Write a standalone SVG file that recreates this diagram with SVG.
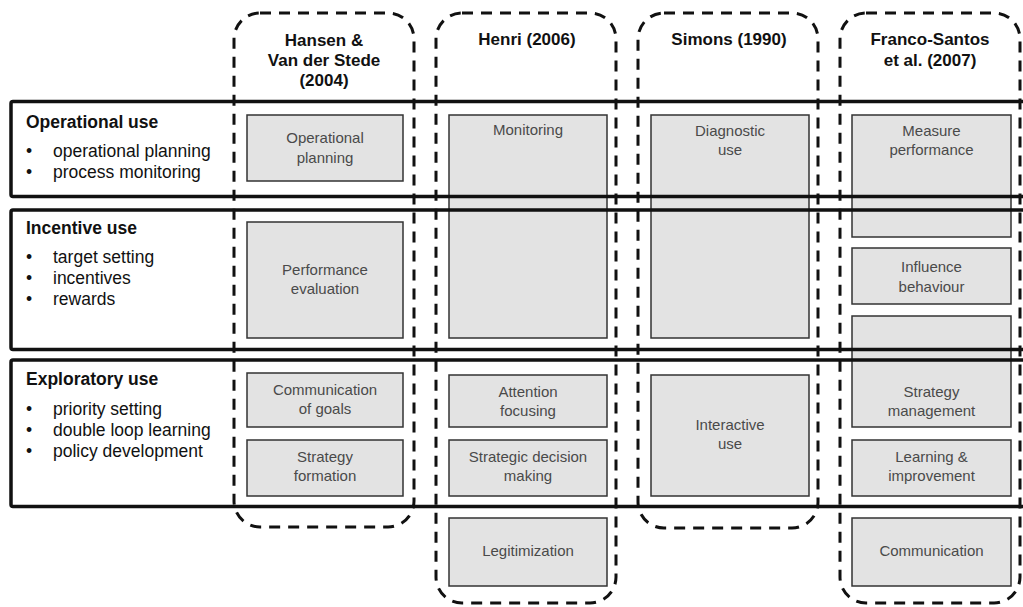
<svg xmlns="http://www.w3.org/2000/svg" width="1023" height="607" viewBox="0 0 1023 607">
<style>
.col{fill:none;stroke:#111;stroke-width:3;stroke-dasharray:11 8}
.row{fill:none;stroke:#111;stroke-width:3.5}
.box{fill:#e3e3e3;stroke:#333;stroke-width:1.5}
.bt{font-family:"Liberation Sans",Arial,sans-serif;font-size:15px;fill:#4a4a4a;text-anchor:middle}
.ht{font-family:"Liberation Sans",Arial,sans-serif;font-size:17px;font-weight:bold;fill:#111;text-anchor:middle}
.lh{font-family:"Liberation Sans",Arial,sans-serif;font-size:17.5px;font-weight:bold;fill:#111}
.lb{font-family:"Liberation Sans",Arial,sans-serif;font-size:17.5px;fill:#111}
</style>
<rect width="1023" height="607" fill="#fff"/>
<g id="columns">
  <g id="col-hansen"><rect class="col" x="234" y="13" width="180" height="514" rx="26"/>
    <text class="ht" x="324" y="46">Hansen &amp;</text><text class="ht" x="324" y="66">Van der Stede</text><text class="ht" x="324" y="86">(2004)</text></g>
  <g id="col-henri"><rect class="col" x="436" y="13" width="180" height="590" rx="26"/>
    <text class="ht" x="527" y="45">Henri (2006)</text></g>
  <g id="col-simons"><rect class="col" x="638" y="13" width="180" height="515" rx="26"/>
    <text class="ht" x="729" y="45">Simons (1990)</text></g>
  <g id="col-franco"><rect class="col" x="840" y="13" width="180" height="590" rx="26"/>
    <text class="ht" x="930" y="45">Franco-Santos</text><text class="ht" x="930" y="66">et al. (2007)</text></g>
</g>
<g id="boxes">
  <g id="op-planning"><rect class="box" x="247" y="115" width="156" height="66"/><text class="bt" x="325" y="143">Operational</text><text class="bt" x="325" y="163">planning</text></g>
  <g id="perf-eval"><rect class="box" x="247" y="222" width="156" height="116"/><text class="bt" x="325" y="275">Performance</text><text class="bt" x="325" y="294">evaluation</text></g>
  <g id="comm-goals"><rect class="box" x="247" y="373" width="156" height="54"/><text class="bt" x="325" y="395">Communication</text><text class="bt" x="325" y="414">of goals</text></g>
  <g id="strat-form"><rect class="box" x="247" y="440" width="156" height="56"/><text class="bt" x="325" y="462">Strategy</text><text class="bt" x="325" y="481">formation</text></g>

  <g id="monitoring"><rect class="box" x="449" y="115" width="158" height="223"/><text class="bt" x="528" y="135">Monitoring</text></g>
  <g id="attention"><rect class="box" x="449" y="375" width="158" height="52"/><text class="bt" x="528" y="397">Attention</text><text class="bt" x="528" y="416">focusing</text></g>
  <g id="strat-dec"><rect class="box" x="449" y="440" width="158" height="56"/><text class="bt" x="528" y="462">Strategic decision</text><text class="bt" x="528" y="481">making</text></g>
  <g id="legit"><rect class="box" x="449" y="518" width="158" height="68"/><text class="bt" x="528" y="556">Legitimization</text></g>

  <g id="diagnostic"><rect class="box" x="651" y="115" width="158" height="223"/><text class="bt" x="730" y="136">Diagnostic</text><text class="bt" x="730" y="155">use</text></g>
  <g id="interactive"><rect class="box" x="651" y="375" width="158" height="121"/><text class="bt" x="730" y="430">Interactive</text><text class="bt" x="730" y="449">use</text></g>

  <g id="measure"><rect class="box" x="852" y="115" width="159" height="122"/><text class="bt" x="931.5" y="136">Measure</text><text class="bt" x="931.5" y="155">performance</text></g>
  <g id="influence"><rect class="box" x="852" y="248" width="159" height="56"/><text class="bt" x="931.5" y="272">Influence</text><text class="bt" x="931.5" y="292">behaviour</text></g>
  <g id="strat-mgmt"><rect class="box" x="852" y="316" width="159" height="111"/><text class="bt" x="931.5" y="397">Strategy</text><text class="bt" x="931.5" y="416">management</text></g>
  <g id="learning"><rect class="box" x="852" y="440" width="159" height="56"/><text class="bt" x="931.5" y="462">Learning &amp;</text><text class="bt" x="931.5" y="481">improvement</text></g>
  <g id="communication"><rect class="box" x="852" y="518" width="159" height="68"/><text class="bt" x="931.5" y="556">Communication</text></g>
</g>
<g id="rows">
  <g id="row-operational"><rect class="row" x="11" y="101.5" width="1030" height="95" rx="2"/>
    <text class="lh" x="26" y="128">Operational use</text>
    <text class="lb" x="26" y="157">•</text><text class="lb" x="53" y="157">operational planning</text>
    <text class="lb" x="26" y="178">•</text><text class="lb" x="53" y="178">process monitoring</text></g>
  <g id="row-incentive"><rect class="row" x="11" y="210" width="1030" height="139.5" rx="2"/>
    <text class="lh" x="26" y="234">Incentive use</text>
    <text class="lb" x="26" y="263">•</text><text class="lb" x="53" y="263">target setting</text>
    <text class="lb" x="26" y="284">•</text><text class="lb" x="53" y="284">incentives</text>
    <text class="lb" x="26" y="305">•</text><text class="lb" x="53" y="305">rewards</text></g>
  <g id="row-exploratory"><rect class="row" x="11" y="360" width="1030" height="146.5" rx="2"/>
    <text class="lh" x="26" y="385">Exploratory use</text>
    <text class="lb" x="26" y="415">•</text><text class="lb" x="53" y="415">priority setting</text>
    <text class="lb" x="26" y="436">•</text><text class="lb" x="53" y="436">double loop learning</text>
    <text class="lb" x="26" y="457">•</text><text class="lb" x="53" y="457">policy development</text></g>
</g>
<g id="connectors"/>
</svg>
